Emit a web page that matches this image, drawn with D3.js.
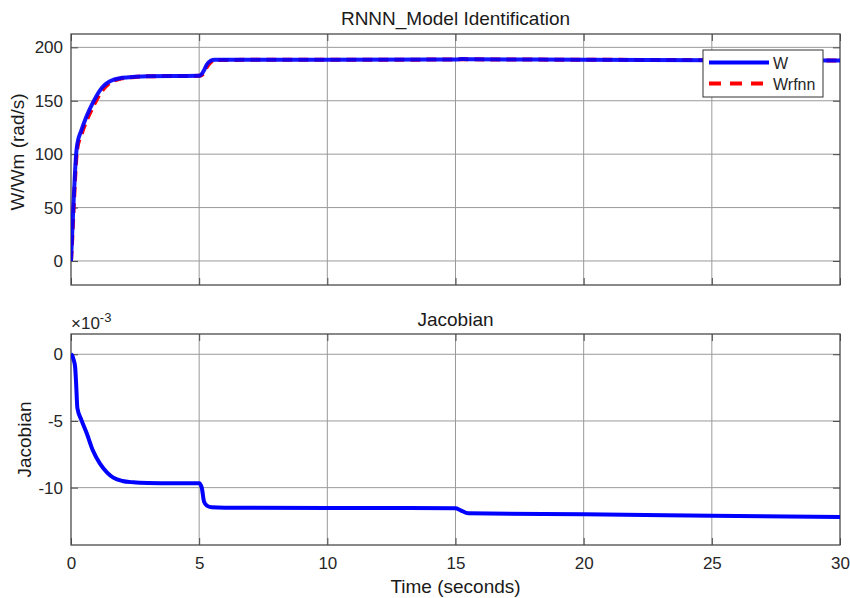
<!DOCTYPE html>
<html><head><meta charset="utf-8">
<script src="https://cdn.jsdelivr.net/npm/d3@7"></script>
<style>body{margin:0;background:#fff}svg{display:block}text{font-family:"Liberation Sans",Arial,sans-serif}</style>
</head><body>
<script>
// ---- data ----
const timeTicks = [0, 5, 10, 15, 20, 25, 30];
const speedTicks = [0, 50, 100, 150, 200];
const jacTicks = [0, -5, -10];

const tW = [0, 0.05, 0.1, 0.15, 0.2, 0.25, 0.4, 0.6, 0.87, 1.2, 1.5, 2.0, 2.5, 3, 4, 5.0, 5.1, 5.2, 5.3, 5.45, 5.6, 8, 10, 15, 15.3, 15.6, 20, 25, 30];
const W     = [0, 28, 55, 80, 100, 110, 122, 135, 149, 162, 168, 171.5, 172.5, 173, 173.2, 173.3, 175, 179, 184, 187.5, 188.5, 188.5, 188.4, 188.6, 189, 188.8, 188.4, 188, 187.6];
const Wrfnn = [0, 22, 48, 73, 94, 106, 118, 131, 145, 159, 166.5, 171, 172.3, 172.9, 173.2, 173.3, 174, 176.5, 181.5, 186, 188, 188.5, 188.4, 188.6, 188.9, 188.8, 188.4, 188, 187.6];

const tJ = [0, 0.05, 0.1, 0.16, 0.2, 0.25, 0.4, 0.61, 0.85, 1.13, 1.4, 1.65, 2.0, 2.43, 3, 4, 5.0, 5.1, 5.19, 5.3, 5.48, 6, 10, 15.0, 15.2, 15.5, 20, 25, 30];
const jacobian = [0, -0.1, -0.4, -0.93, -2.2, -4.05, -4.9, -5.9, -7.2, -8.2, -8.85, -9.25, -9.5, -9.6, -9.65, -9.67, -9.67, -10.0, -11.05, -11.35, -11.47, -11.5, -11.52, -11.55, -11.7, -11.92, -12.0, -12.1, -12.2]; // x1e-3

// ---- layout ----
const width = 850, height = 598;
const L = 71, R = 840;
const top1 = 34, bot1 = 285, top2 = 334, bot2 = 545;
const tickFont = 17, labelFont = 19;
const axisCol = "#4a4a4a", gridCol = "#9a9a9a", textCol = "#262626";

const svg = d3.select("body").append("svg").attr("width", width).attr("height", height);

const x = d3.scaleLinear().domain([0, 30]).range([L, R]);
const y1 = d3.scaleLinear().domain([-22.5, 212.5]).range([bot1, top1]);
const y2 = d3.scaleLinear().domain([-14.3, 1.52]).range([bot2, top2]);

function panel(y, yt, topY, botY, showX) {
  const g = svg.append("g");
  g.append("g").selectAll("line").data(timeTicks.slice(1, -1)).join("line")
    .attr("x1", d => x(d)).attr("x2", d => x(d)).attr("y1", topY).attr("y2", botY)
    .attr("stroke", gridCol).attr("stroke-width", 1);
  g.append("g").selectAll("line").data(yt).join("line")
    .attr("x1", L).attr("x2", R).attr("y1", d => y(d)).attr("y2", d => y(d))
    .attr("stroke", gridCol).attr("stroke-width", 1);
  const tl = 7;
  const ax = d3.axisBottom(x).tickValues(timeTicks).tickSize(-tl).tickPadding(12)
    .tickFormat(showX ? (d => String(d)) : "");
  const axG = g.append("g").attr("transform", `translate(0,${botY})`).call(ax);
  const axT = g.append("g").attr("transform", `translate(0,${topY})`).call(d3.axisTop(x).tickValues(timeTicks).tickSize(-tl).tickFormat(""));
  const ayG = g.append("g").attr("transform", `translate(${L},0)`).call(d3.axisLeft(y).tickValues(yt).tickSize(-tl).tickPadding(8).tickFormat(d => String(d)));
  const ayR = g.append("g").attr("transform", `translate(${R},0)`).call(d3.axisRight(y).tickValues(yt).tickSize(-tl).tickFormat(""));
  [axG, axT, ayG, ayR].forEach(a => {
    a.select(".domain").remove();
    a.selectAll("line").attr("stroke", axisCol);
    a.selectAll("text").attr("fill", textCol).style("font-size", tickFont + "px").style("font-family", '"Liberation Sans",Arial,sans-serif');
  });
  g.append("rect").attr("x", L).attr("y", topY).attr("width", R - L).attr("height", botY - topY)
    .attr("fill", "none").attr("stroke", axisCol).attr("stroke-width", 1.3);
  return g;
}

panel(y1, speedTicks, top1, bot1, false);
panel(y2, jacTicks, top2, bot2, true);

svg.append("clipPath").attr("id", "c1").append("rect").attr("x", L).attr("y", top1).attr("width", R - L).attr("height", bot1 - top1);
svg.append("clipPath").attr("id", "c2").append("rect").attr("x", L).attr("y", top2).attr("width", R - L).attr("height", bot2 - top2);

const line1 = d3.line().x((d, i) => x(tW[i])).y(d => y1(d)).curve(d3.curveMonotoneX);
const line2 = d3.line().x((d, i) => x(tJ[i])).y(d => y2(d)).curve(d3.curveMonotoneX);

svg.append("path").attr("clip-path", "url(#c1)").datum(Wrfnn).attr("d", line1)
  .attr("fill", "none").attr("stroke", "#ff0000").attr("stroke-width", 4).attr("stroke-dasharray", "10,6");
svg.append("path").attr("clip-path", "url(#c1)").datum(W).attr("d", line1)
  .attr("fill", "none").attr("stroke", "#0000ff").attr("stroke-width", 4).attr("stroke-opacity", 0.92);
svg.append("path").attr("clip-path", "url(#c2)").datum(jacobian).attr("d", line2)
  .attr("fill", "none").attr("stroke", "#0000ff").attr("stroke-width", 4);

svg.append("text").attr("x", (L + R) / 2).attr("y", 25).attr("text-anchor", "middle")
  .style("font-size", labelFont + "px").attr("fill", "#1a1a1a").text("RNNN_Model Identification");
svg.append("text").attr("x", (L + R) / 2).attr("y", 326).attr("text-anchor", "middle")
  .style("font-size", labelFont + "px").attr("fill", "#1a1a1a").text("Jacobian");
svg.append("text").attr("x", (L + R) / 2).attr("y", 593).attr("text-anchor", "middle")
  .style("font-size", labelFont + "px").attr("fill", "#1a1a1a").text("Time (seconds)");
svg.append("text").attr("transform", `translate(24,152) rotate(-90)`).attr("text-anchor", "middle")
  .style("font-size", labelFont + "px").attr("fill", "#1a1a1a").text("W/Wm (rad/s)");
svg.append("text").attr("transform", `translate(31,${(top2 + bot2) / 2}) rotate(-90)`).attr("text-anchor", "middle")
  .style("font-size", labelFont + "px").attr("fill", "#1a1a1a").text("Jacobian");

const ex = svg.append("text").attr("x", 71).attr("y", 329).style("font-size", tickFont + "px").attr("fill", textCol);
ex.append("tspan").text("×10");
ex.append("tspan").attr("dy", -7).style("font-size", "13px").text("-3");

const lg = svg.append("g");
lg.append("rect").attr("x", 703).attr("y", 50).attr("width", 120).attr("height", 47)
  .attr("fill", "#fff").attr("stroke", "#333").attr("stroke-width", 1);
const legItems = [{name: "W", color: "#0000ff", dash: null, yy: 62.5}, {name: "Wrfnn", color: "#ff0000", dash: "12,9", yy: 83.5}];
legItems.forEach(it => {
  lg.append("line").attr("x1", 709).attr("x2", 769).attr("y1", it.yy).attr("y2", it.yy)
    .attr("stroke", it.color).attr("stroke-width", 4).attr("stroke-dasharray", it.dash);
  lg.append("text").attr("x", 773).attr("y", it.yy + 6).style("font-size", "16px").attr("fill", textCol).text(it.name);
});
</script>
</body></html>
